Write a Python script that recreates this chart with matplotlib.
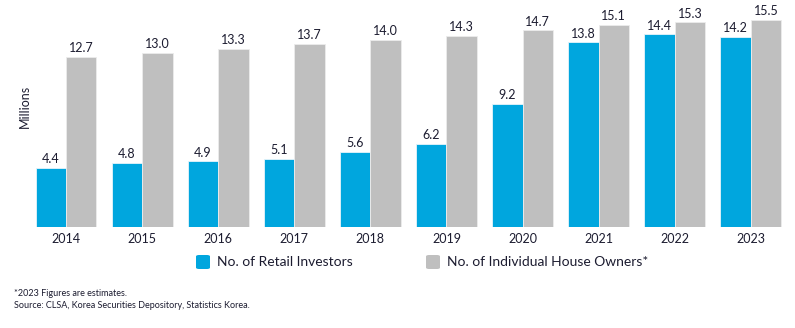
import numpy as np
import matplotlib.pyplot as plt
from matplotlib.patches import FancyBboxPatch

plt.rcParams['font.family'] = ['Lato', 'DejaVu Sans']

# number of people, in millions
years = ['2014', '2015', '2016', '2017', '2018', '2019', '2020', '2021', '2022', '2023']
retail_investors = [4.4, 4.8, 4.9, 5.1, 5.6, 6.2, 9.2, 13.8, 14.4, 14.2]
house_owners = [12.7, 13.0, 13.3, 13.7, 14.0, 14.3, 14.7, 15.1, 15.3, 15.5]

blue = '#00a6de'
grey = '#bfbfbf'
ink = '#1c1c30'

fig = plt.figure(figsize=(7.95, 3.28), dpi=100)
ax = fig.add_axes([0.0352, 0.308, 0.957, 0.677])

x = np.arange(len(years))
w = 0.4
b1 = ax.bar(x - w / 2, retail_investors, w, color=blue, edgecolor='#e6f4fa', linewidth=0.6)
b2 = ax.bar(x + w / 2, house_owners, w, color=grey, edgecolor='#ececec', linewidth=0.6)

for bars, vals in ((b1, retail_investors), (b2, house_owners)):
    for r, v in zip(bars, vals):
        ax.text(r.get_x() + r.get_width() / 2, v + 0.2, f'{v:.1f}',
                ha='center', va='bottom', fontsize=9, color=ink)

ax.set_xlim(-0.5, len(years) - 0.5)
ax.set_ylim(0, 16.6)
ax.set_xticks(x)
ax.set_xticklabels(years, fontsize=9, color=ink)
ax.tick_params(axis='x', length=0, pad=4)
ax.set_yticks([])
for s in ax.spines.values():
    s.set_visible(False)

fig.text(0.031, 0.675, 'Millions', rotation=90, ha='center', va='center',
         fontsize=9, color=ink)

# legend, drawn by hand in figure pixels
def legend_item(px, label, color):
    fig.add_artist(FancyBboxPatch((px / 795, 1 - 269 / 328), 14 / 795, 14 / 328,
                                  boxstyle='round,pad=0,rounding_size=0.004',
                                  transform=fig.transFigure, facecolor=color,
                                  edgecolor='none'))
    fig.text((px + 21) / 795, 1 - 262 / 328, label, ha='left', va='center',
             fontsize=10, color=ink)

legend_item(196, 'No. of Retail Investors', blue)
legend_item(426, 'No. of Individual House Owners*', grey)

fig.text(14 / 795, 1 - 293 / 328, '*2023 Figures are estimates.',
         ha='left', va='center', fontsize=6.5, color=ink)
fig.text(14 / 795, 1 - 305 / 328, 'Source: CLSA, Korea Securities Depository, Statistics Korea.',
         ha='left', va='center', fontsize=6.5, color=ink)

fig.savefig('out.png', dpi=100)
